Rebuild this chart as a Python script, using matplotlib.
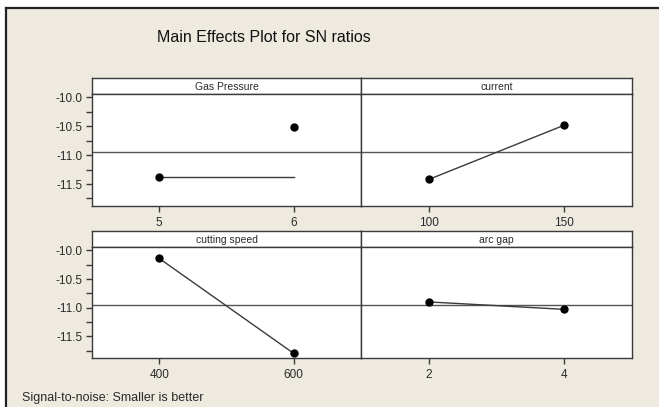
import numpy as np
import matplotlib
matplotlib.use("Agg")
import matplotlib.pyplot as plt

# --- data ---
factors = ["Gas Pressure", "current", "cutting speed", "arc gap"]
levels = [["5", "6"], ["100", "150"], ["400", "600"], ["2", "4"]]
gas_pressure = [-11.37, -10.51]
current = [-11.42, -10.48]
cutting_speed = [-10.14, -11.80]
arc_gap = [-10.90, -11.03]
# the gas pressure line in the source stays flat at level 5's value
gas_line = [-11.37, -11.37]
overall_mean = -10.95

BG = "#EEEAE0"
LINE = "#3a3a3a"
TXT = "#2a2a2a"
W, H = 659, 407


def px_box(x0, y0, x1, y1):
    """pixel box (top-left origin) -> figure fraction rect"""
    return [x0 / W, 1 - y1 / H, (x1 - x0) / W, (y1 - y0) / H]


def main():
    plt.rcParams["font.family"] = ["Liberation Sans", "DejaVu Sans"]
    fig = plt.figure(figsize=(W / 100, H / 100), dpi=100)
    fig.patch.set_facecolor("white")

    # beige background with dark left/top border
    bg = fig.add_axes(px_box(6, 8, W + 5, H + 5))
    bg.set_facecolor(BG)
    bg.set_xticks([])
    bg.set_yticks([])
    for s in ["right", "bottom"]:
        bg.spines[s].set_visible(False)
    for s in ["left", "top"]:
        bg.spines[s].set_color("#222222")
        bg.spines[s].set_linewidth(1.6)

    fig.text(264 / W, 1 - 37 / H, "Main Effects Plot for SN ratios",
             ha="center", va="center", fontsize=11.5, color="#111111")

    values = [gas_pressure, current, cutting_speed, arc_gap]
    cols = [(92, 361), (361, 632)]
    rows = [(78, 94, 206), (231, 247, 358)]

    for i, (name, labs, vals) in enumerate(zip(factors, levels, values)):
        r, c = divmod(i, 2)
        x0, x1 = cols[c]
        hy0, hy1, y1 = rows[r]

        # header strip
        hdr = fig.add_axes(px_box(x0, hy0, x1, hy1))
        hdr.set_facecolor("white")
        hdr.set_xticks([])
        hdr.set_yticks([])
        for s in hdr.spines.values():
            s.set_color(LINE)
            s.set_linewidth(1.0)
        hdr.text(0.5, 0.45, name, ha="center", va="center",
                 fontsize=7.5, color=TXT, transform=hdr.transAxes)

        ax = fig.add_axes(px_box(x0, hy1, x1, y1))
        ax.set_facecolor("white")
        for s in ax.spines.values():
            s.set_color(LINE)
            s.set_linewidth(1.0)
        ax.axhline(overall_mean, color="#555555", lw=1.0, zorder=1)

        xs = np.arange(len(labs))
        if i == 0:
            ax.plot(xs, gas_line, color=LINE, lw=1.0, zorder=2)
            ax.plot(xs, vals, "o", color="black", ms=5, zorder=3)
        else:
            ax.plot(xs, vals, "-o", color=LINE, lw=1.0,
                    mfc="black", mec="black", ms=5, zorder=3)

        ax.set_xlim(-0.5, 1.5)
        ax.set_ylim(-11.88, -9.94)
        ax.set_xticks(xs)
        ax.set_xticklabels(labs)
        ax.tick_params(axis="x", direction="out", length=4, width=1,
                       color=LINE, labelsize=8.5, labelcolor=TXT, pad=4)
        if c == 0:
            ax.set_yticks([-10.0, -10.5, -11.0, -11.5])
            ax.set_yticklabels(["-10.0", "-10.5", "-11.0", "-11.5"])
            ax.set_yticks([-10.25, -10.75, -11.25, -11.75], minor=True)
            ax.tick_params(axis="y", which="both", direction="out",
                           length=4, width=1, color=LINE,
                           labelsize=8.5, labelcolor=TXT, pad=3)
        else:
            ax.set_yticks([])

    fig.text(22 / W, 1 - 392 / H, "Signal-to-noise: Smaller is better",
             ha="left", va="top", fontsize=9, color=TXT)

    fig.savefig("out.png", dpi=100, facecolor=fig.get_facecolor())


if __name__ == "__main__":
    main()
